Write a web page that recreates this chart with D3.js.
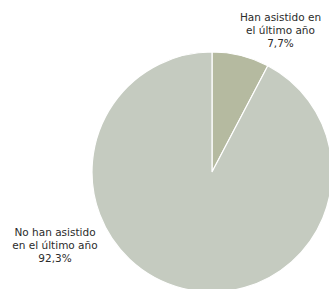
<!DOCTYPE html>
<html>
<head>
<meta charset="utf-8">
<script src="https://cdn.jsdelivr.net/npm/d3@7"></script>
<style>
  body { margin: 0; background: #fff; }
  svg { display: block; }
  .lbl { font-family: "DejaVu Sans", Verdana, sans-serif; font-size: 10.5px; fill: #2b2b2b; }
</style>
</head>
<body>
<div id="chart"></div>
<script>
// Data
const categories = ["Han asistido en el último año", "No han asistido en el último año"];
const values = [7.7, 92.3];
const colors = ["#b5baa0", "#c5cbc0"];
const labelLines = [
    ["Han asistido en", "el último año", "7,7%"],
    ["No han asistido", "en el último año", "92,3%"]
];

const width = 329,
    height = 289;

const svg = d3.select("#chart")
    .append("svg")
    .attr("width", width)
    .attr("height", height);

const cx = 212, cy = 172, radius = 120;

const pie = d3.pie().sort(null).value(d => d);
const arc = d3.arc().innerRadius(0).outerRadius(radius);

const g = svg.append("g").attr("transform", `translate(${cx},${cy})`);

g.selectAll("path")
    .data(pie(values))
    .enter()
    .append("path")
    .attr("d", arc)
    .attr("fill", (d, i) => colors[i])
    .attr("stroke", "#fff")
    .attr("stroke-width", 1.2);

// Labels (positioned outside the slices)
const labelPos = [[280.5, 21], [55, 236]];

labelLines.forEach((lines, i) => {
    const t = svg.append("text")
        .attr("class", "lbl")
        .attr("text-anchor", "middle")
        .attr("x", labelPos[i][0])
        .attr("y", labelPos[i][1]);
    lines.forEach((line, j) => {
        t.append("tspan")
            .attr("x", labelPos[i][0])
            .attr("dy", j === 0 ? 0 : 13)
            .text(line);
    });
});
</script>
</body>
</html>
